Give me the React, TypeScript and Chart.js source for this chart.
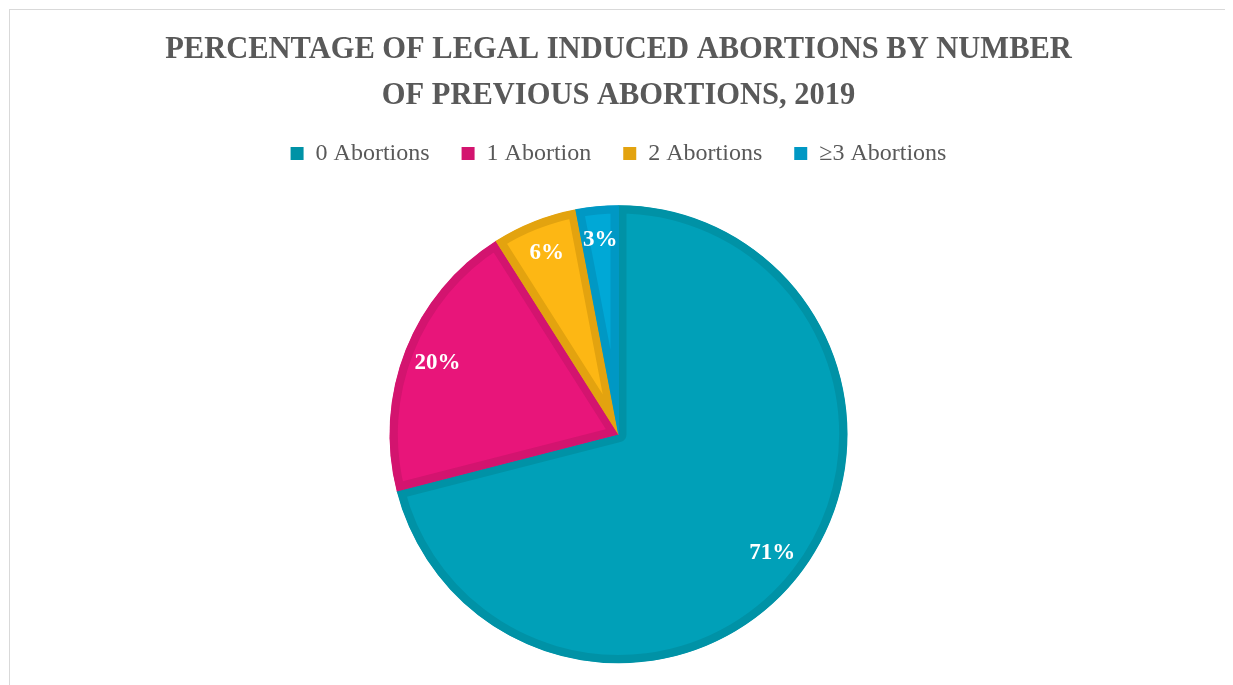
import React, { useEffect, useRef } from "react";
import { Chart, registerables } from "chart.js";

Chart.register(...registerables);

const titleLines = ["PERCENTAGE OF LEGAL INDUCED ABORTIONS BY NUMBER", "OF PREVIOUS ABORTIONS, 2019"];
const categories = ["0 Abortions", "1 Abortion", "2 Abortions", "≥3 Abortions"];
const values = [71, 20, 6, 3];
const fillColors = ["#00A0B8", "#E8157A", "#FDB714", "#00A8D6"];
const borderColors = ["#0092A6", "#D3146F", "#E3A30F", "#0098C4"];

const labelPlugin = {
  id: "sliceLabels",
  afterDatasetsDraw(chart: any) {
    const ctx = chart.ctx;
    const meta = chart.getDatasetMeta(0);
    ctx.save();
    ctx.fillStyle = "#FFFFFF";
    ctx.font = "bold 23px 'Liberation Serif', serif";
    ctx.textAlign = "center";
    ctx.textBaseline = "middle";
    meta.data.forEach((arc: any, i: number) => {
      const p = arc.getProps(["x", "y", "startAngle", "endAngle", "outerRadius"], true);
      const mid = (p.startAngle + p.endAngle) / 2;
      const r = p.outerRadius * 0.85;
      const tx = p.x + Math.cos(mid) * r;
      const ty = p.y + Math.sin(mid) * r;
      ctx.fillText(values[i] + "%", tx, ty);
    });
    ctx.restore();
  },
};

export default function App() {
  const ref = useRef<HTMLCanvasElement | null>(null);
  useEffect(() => {
    document.documentElement.style.overflow = "hidden";
    document.body.style.overflow = "hidden";
    if (!ref.current) return;
    const chart = new Chart(ref.current, {
      type: "pie",
      data: {
        labels: categories,
        datasets: [
          {
            data: values,
            backgroundColor: fillColors,
            borderColor: borderColors,
            borderWidth: 8,
            borderAlign: "inner",
          } as any,
        ],
      },
      options: {
        animation: false,
        responsive: true,
        maintainAspectRatio: false,
        radius: 229,
        layout: { padding: { top: 0, bottom: 7, left: 0, right: 0 } },
        plugins: {
          tooltip: { enabled: false },
          title: {
            display: true,
            text: titleLines,
            color: "#595959",
            font: { family: "'Liberation Serif', serif", size: 30.5, weight: "bold", lineHeight: 1.5 },
            padding: { top: 17, bottom: -9 },
          },
          legend: {
            display: true,
            position: "top",
            labels: {
              color: "#595959",
              font: { family: "'Liberation Serif', serif", size: 24 },
              boxWidth: 13,
              boxHeight: 13,
              padding: 32,
              generateLabels: () =>
                categories.map((c, i) => ({
                  text: c,
                  fillStyle: borderColors[i],
                  strokeStyle: borderColors[i],
                  lineWidth: 0,
                  hidden: false,
                  index: i,
                  fontColor: "#595959",
                })),
            },
          },
        },
      } as any,
      plugins: [labelPlugin],
    });
    return () => chart.destroy();
  }, []);
  return (
    <div
      style={{
        marginLeft: 1,
        marginTop: 1,
        width: 1217,
        height: 690,
        border: "1px solid #D9D9D9",
        background: "#FFFFFF",
        position: "relative",
      }}
    >
      <canvas ref={ref} />
    </div>
  );
}
